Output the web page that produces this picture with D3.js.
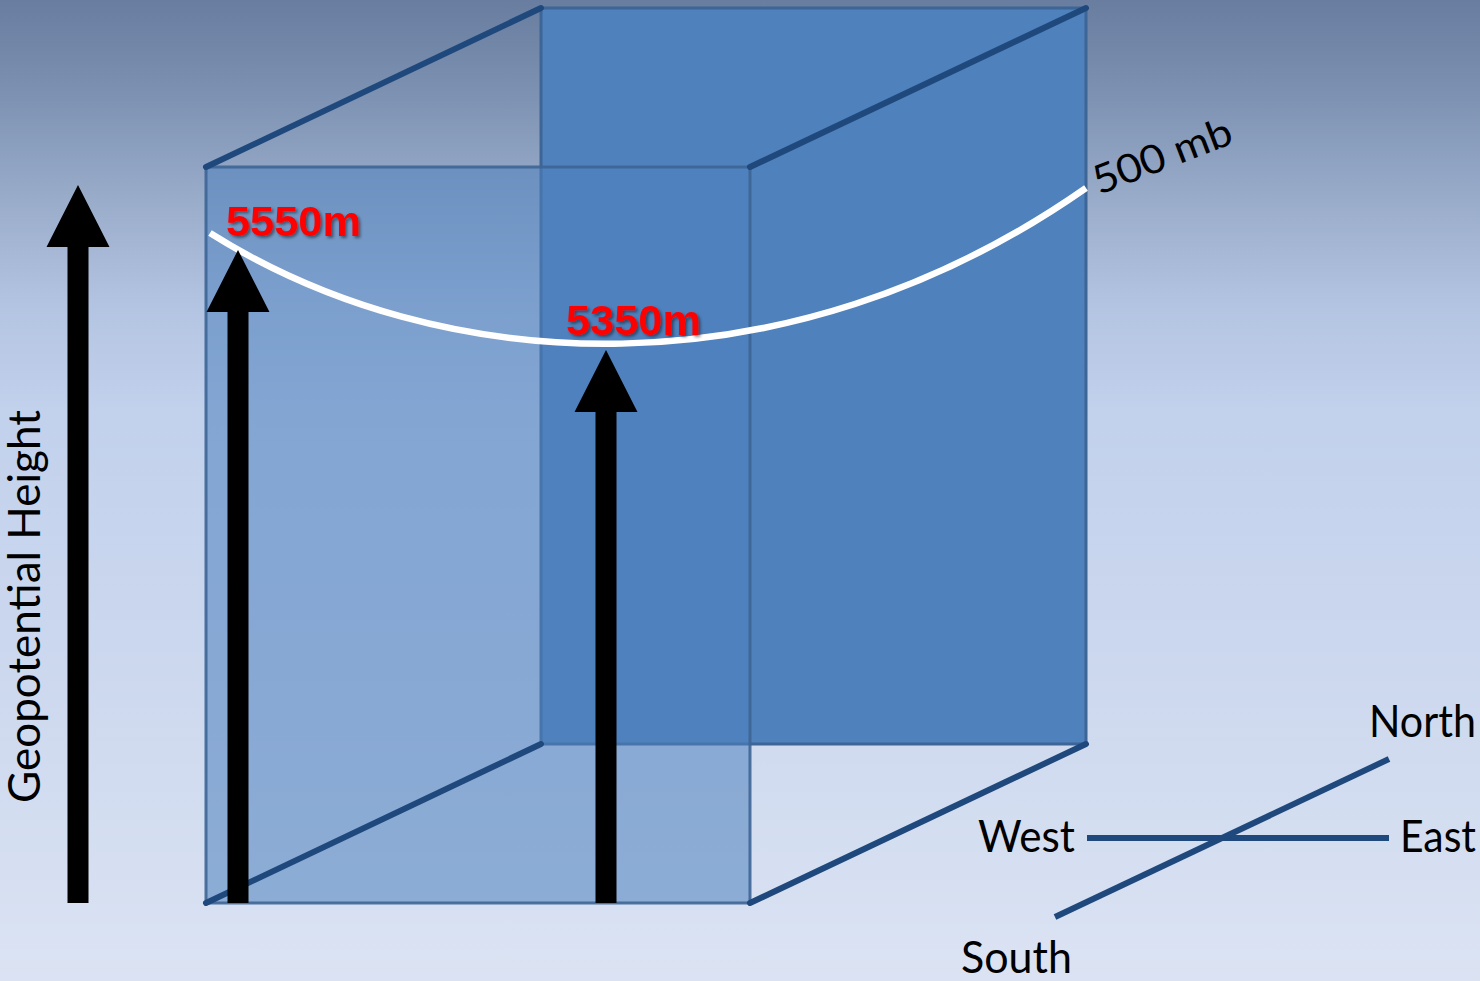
<!DOCTYPE html>
<html><head><meta charset="utf-8">
<script src="https://cdn.jsdelivr.net/npm/d3@7"></script>
<style>html,body{margin:0;padding:0;overflow:hidden;background:#dae2f3}</style>
</head><body>
<script>
// ---- data ----
const heights = [5550, 5350];                 // geopotential heights at the two columns (m)
const heightLabels = ["5550m", "5350m"];
const isobarLabel = "500 mb";
const axisLabel = "Geopotential Height";
const directions = ["North", "South", "East", "West"];
const bgStops = [[0, "#687d9f"], [0.1, "#7e92b3"], [0.2, "#98abc9"], [0.31, "#b3c4e2"], [0.42, "#c2d1ec"], [0.65, "#cbd7ee"], [1, "#dbe3f3"]];

const W = 1480, H = 981;
const svg = d3.select("body").append("svg").attr("width", W).attr("height", H);
const defs = svg.append("defs");
const grad = defs.append("linearGradient").attr("id", "bg").attr("x1", 0).attr("y1", 0).attr("x2", 0).attr("y2", 1);
grad.selectAll("stop").data(bgStops).join("stop").attr("offset", d => d[0]).attr("stop-color", d => d[1]);
const sh = defs.append("filter").attr("id", "shadow").attr("x", "-10%").attr("y", "-20%").attr("width", "130%").attr("height", "150%");
sh.append("feDropShadow").attr("dx", 2).attr("dy", 2).attr("stdDeviation", 1.5).attr("flood-color", "#000").attr("flood-opacity", 0.45);

svg.append("rect").attr("width", W).attr("height", H).attr("fill", "url(#bg)");

// box geometry (layout)
const front = {x0: 206, x1: 750, y0: 167, y1: 903};
const back = {x0: 541, x1: 1086, y0: 8, y1: 744};

// back face
svg.append("rect").attr("x", back.x0).attr("y", back.y0).attr("width", back.x1 - back.x0).attr("height", back.y1 - back.y0)
  .attr("fill", "#4f81bd").attr("stroke", "#3d6595").attr("stroke-width", 3);
// front face (translucent)
svg.append("rect").attr("x", front.x0).attr("y", front.y0).attr("width", front.x1 - front.x0).attr("height", front.y1 - front.y0)
  .attr("fill", "#4f81bd").attr("fill-opacity", 0.55).attr("stroke", "#3d6595").attr("stroke-width", 3).attr("stroke-opacity", 0.9);

// connecting edges
const edges = [
  [[front.x0, front.y0], [back.x0, back.y0]],
  [[front.x1, front.y0], [back.x1, back.y0]],
  [[front.x0, front.y1], [back.x0, back.y1]],
  [[front.x1, front.y1], [back.x1, back.y1]]
];
svg.selectAll(".edge").data(edges).join("line").attr("class", "edge")
  .attr("x1", d => d[0][0]).attr("y1", d => d[0][1]).attr("x2", d => d[1][0]).attr("y2", d => d[1][1])
  .attr("stroke", "#1f497d").attr("stroke-width", 6).attr("stroke-linecap", "round");

// height scale: geopotential height (m) -> pixel y of the 500 mb surface
const yH = d3.scaleLinear().domain([5350, 5550]).range([350, 250]);

// 500 mb surface curve (smooth cubic)
const cp = d3.path();
cp.moveTo(210, 233);
cp.bezierCurveTo(440, 378, 786, 398, 1086, 188);
svg.append("path").attr("d", cp.toString())
  .attr("fill", "none").attr("stroke", "#ffffff").attr("stroke-width", 6.5);

// arrows
function arrowPath(cx, tip, base, headW, shaftW, headH) {
  const p = d3.path();
  p.moveTo(cx, tip);
  p.lineTo(cx + headW / 2, tip + headH);
  p.lineTo(cx + shaftW / 2, tip + headH);
  p.lineTo(cx + shaftW / 2, base);
  p.lineTo(cx - shaftW / 2, base);
  p.lineTo(cx - shaftW / 2, tip + headH);
  p.lineTo(cx - headW / 2, tip + headH);
  p.closePath();
  return p.toString();
}
const arrows = [
  {cx: 78, tip: 185},
  {cx: 238, tip: yH(heights[0])},
  {cx: 606, tip: yH(heights[1])}
];
svg.selectAll(".arrow").data(arrows).join("path").attr("class", "arrow")
  .attr("d", d => arrowPath(d.cx, d.tip, 903, 63, 21, 62)).attr("fill", "#000");

// height labels
const labelPos = [[226, 236], [566, 335]];
svg.selectAll(".hl").data(heightLabels).join("text").attr("class", "hl")
  .attr("x", (d, i) => labelPos[i][0]).attr("y", (d, i) => labelPos[i][1])
  .attr("textLength", 135).attr("lengthAdjust", "spacingAndGlyphs")
  .attr("font-family", "Liberation Sans, Arial, sans-serif").attr("font-weight", "bold").attr("font-size", 43)
  .attr("fill", "#ff0000").attr("filter", "url(#shadow)").text(d => d);

// 500 mb label
svg.append("text").attr("transform", "translate(1099,195) rotate(-21)")
  .attr("font-family", "Lato, 'Open Sans', sans-serif").attr("font-size", 40).attr("fill", "#000")
  .attr("textLength", 146).attr("lengthAdjust", "spacingAndGlyphs").text(isobarLabel);

// axis label
svg.append("text").attr("transform", "translate(40,803) rotate(-90)")
  .attr("font-family", "Lato, 'Open Sans', sans-serif").attr("font-size", 44).attr("fill", "#000")
  .attr("textLength", 393).attr("lengthAdjust", "spacingAndGlyphs").text(axisLabel);

// compass
svg.append("line").attr("x1", 1087).attr("y1", 838).attr("x2", 1389).attr("y2", 838)
  .attr("stroke", "#1f497d").attr("stroke-width", 6);
svg.append("line").attr("x1", 1055).attr("y1", 917).attr("x2", 1389).attr("y2", 759)
  .attr("stroke", "#1f497d").attr("stroke-width", 6);
const dirPos = {North: [1369, 737, 107], South: [961, 973, 111], East: [1400, 852, 76], West: [978, 852, 97]};
svg.selectAll(".dir").data(directions).join("text").attr("class", "dir")
  .attr("x", d => dirPos[d][0]).attr("y", d => dirPos[d][1]).attr("textLength", d => dirPos[d][2])
  .attr("lengthAdjust", "spacingAndGlyphs")
  .attr("font-family", "Lato, 'Open Sans', sans-serif").attr("font-size", 44).attr("fill", "#000").text(d => d);
</script>
</body></html>
